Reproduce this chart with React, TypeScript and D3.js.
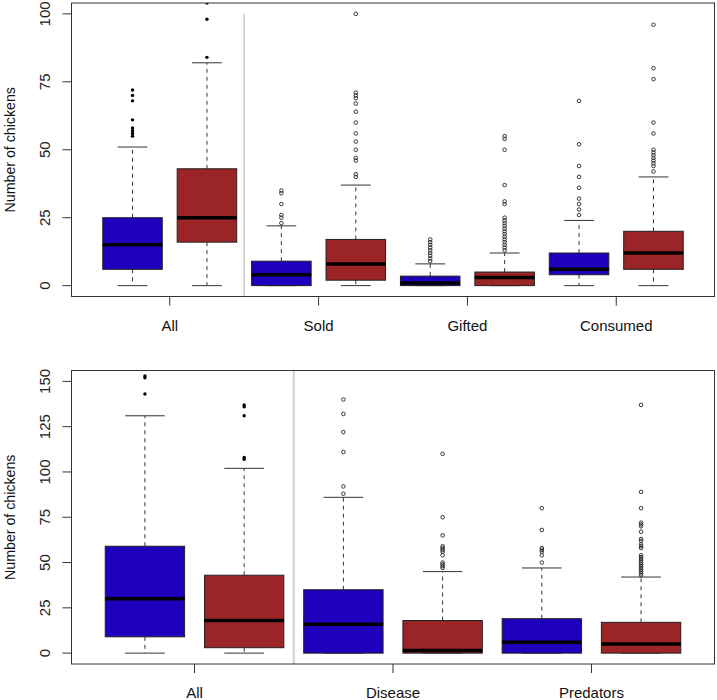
import React from "react";
import * as d3 from "d3";

// ---- Data ----
const topGroups = ["All", "Sold", "Gifted", "Consumed"];
const topTicks = [0, 25, 50, 75, 100];
// [lower whisker, Q1, median, Q3, upper whisker]
const topBlueStats = [
  [0, 6, 15, 25, 51],
  [0, 0, 4, 9, 22],
  [0, 0, 1, 3.5, 8],
  [0, 4, 6, 12, 24],
];
const topRedStats = [
  [0, 16, 25, 43, 82],
  [0, 2, 8, 17, 37],
  [0, 0, 3, 5, 12],
  [0, 6, 12, 20, 40],
];
const topBlueOutliers = [
  [72, 70, 68, 61, 58, 57, 56, 55],
  [35, 34, 30, 26, 25, 23],
  [17, 16, 15, 14, 13, 12, 11, 10, 9],
  [68, 52, 44, 40, 36, 32, 30, 28, 26],
];
const topRedOutliers = [
  [104, 98, 84],
  [100, 71, 70, 69, 67, 64, 60, 56, 53, 50, 47, 46, 41, 40],
  [55, 54, 50, 37, 31, 30, 25, 24, 23, 22, 21, 20, 19, 18, 17, 16, 15, 14, 13],
  [96, 80, 76, 60, 56, 50, 49, 48, 47, 46, 45, 44, 42],
];

const bottomGroups = ["All", "Disease", "Predators"];
const bottomTicks = [0, 25, 50, 75, 100, 125, 150];
const bottomBlueStats = [
  [0, 9, 30, 59, 131],
  [0, 0, 16, 35, 86],
  [0, 0, 6, 19, 47],
];
const bottomRedStats = [
  [0, 3, 18, 43, 102],
  [0, 0, 1.5, 18, 45],
  [0, 0, 5, 17, 42],
];
const bottomBlueOutliers = [
  [153, 152, 143],
  [140, 132, 122, 111, 92, 88],
  [80, 68, 58, 57, 56, 54, 50],
];
const bottomRedOutliers = [
  [137, 136, 131, 108, 107],
  [110, 75, 65, 59, 58, 57, 56, 54, 50, 49, 48, 47],
  [137, 89, 80, 72, 71, 70, 67, 63, 62, 60, 59, 58, 54, 53, 52, 51, 50, 49, 48, 47, 46, 45, 44, 43],
];

const yTitle = "Number of chickens";
const BLUE = "#1c00bb";
const RED = "#9b2426";
const FONT = "'Liberation Sans', Arial, Helvetica, sans-serif";

type PanelProps = {
  id: string;
  groups: string[];
  ticks: number[];
  blueStats: number[][];
  redStats: number[][];
  blueOut: number[][];
  redOut: number[][];
  top: number;
  bottom: number;
  left: number;
  right: number;
  yMax: number;
  sepFromTop: boolean;
  sepColor: string;
  sepWidth: number;
};

function Panel(p: PanelProps) {
  const n = p.groups.length * 2;
  const ext = n * 0.04;
  const x = d3.scaleLinear().domain([0.5 - ext, n + 0.5 + ext]).range([p.left, p.right]);
  const yExt = p.yMax * 0.04;
  const y = d3.scaleLinear().domain([-yExt, p.yMax + yExt]).range([p.bottom, p.top]);
  const bw = (x(1) - x(0)) * 0.8;
  const cap = bw / 2;

  const boxes: { pos: number; s: number[]; out: number[]; color: string; filled: boolean }[] = [];
  p.groups.forEach((g, i) => {
    boxes.push({ pos: 2 * i + 1, s: p.blueStats[i], out: p.blueOut[i], color: BLUE, filled: i === 0 });
    boxes.push({ pos: 2 * i + 2, s: p.redStats[i], out: p.redOut[i], color: RED, filled: i === 0 });
  });

  const clipId = `clip-${p.id}`;
  const midY = (p.top + p.bottom) / 2;
  return (
    <g>
      <defs>
        <clipPath id={clipId}>
          <rect x={p.left} y={p.top} width={p.right - p.left} height={p.bottom - p.top} />
        </clipPath>
      </defs>
      {/* separator */}
      <line
        x1={x(2.5)}
        x2={x(2.5)}
        y1={p.sepFromTop ? p.top : y(p.yMax)}
        y2={p.bottom}
        stroke={p.sepColor}
        strokeWidth={p.sepWidth}
      />
      <g clipPath={`url(#${clipId})`}>
        {boxes.map((b, k) => {
          const cx = x(b.pos);
          const [lo, q1, med, q3, hi] = b.s;
          return (
            <g key={k}>
              <line x1={cx} x2={cx} y1={y(q3)} y2={y(hi)} stroke="#333" strokeWidth={1} strokeDasharray="4,4" />
              <line x1={cx} x2={cx} y1={y(q1)} y2={y(lo)} stroke="#333" strokeWidth={1} strokeDasharray="4,4" />
              <line x1={cx - cap / 2} x2={cx + cap / 2} y1={y(hi)} y2={y(hi)} stroke="#333" strokeWidth={1} />
              <line x1={cx - cap / 2} x2={cx + cap / 2} y1={y(lo)} y2={y(lo)} stroke="#333" strokeWidth={1} />
              <rect
                x={cx - bw / 2}
                y={y(q3)}
                width={bw}
                height={y(q1) - y(q3)}
                fill={b.color}
                stroke="#222"
                strokeWidth={1}
              />
              <line x1={cx - bw / 2} x2={cx + bw / 2} y1={y(med)} y2={y(med)} stroke="#000" strokeWidth={3.5} />
              {b.out.map((v, j) =>
                b.filled ? (
                  <circle key={j} cx={cx} cy={y(v)} r={1.7} fill="#000" />
                ) : (
                  <circle key={j} cx={cx} cy={y(v)} r={1.8} fill="none" stroke="#222" strokeWidth={0.9} />
                )
              )}
            </g>
          );
        })}
      </g>
      {/* frame */}
      <rect x={p.left} y={p.top} width={p.right - p.left} height={p.bottom - p.top} fill="none" stroke="#333" strokeWidth={1} />
      {/* y ticks */}
      {p.ticks.map((t) => (
        <g key={t}>
          <line x1={p.left - 9} x2={p.left} y1={y(t)} y2={y(t)} stroke="#333" strokeWidth={1} />
          <text
            transform={`translate(${p.left - 21.5},${y(t)}) rotate(-90)`}
            textAnchor="middle"
            fontSize={15}
            fontFamily={FONT}
            fill="#222"
          >
            {t}
          </text>
        </g>
      ))}
      {/* x ticks */}
      {p.groups.map((g, i) => {
        const gx = x(2 * i + 1.5);
        return (
          <g key={g}>
            <line x1={gx} x2={gx} y1={p.bottom} y2={p.bottom + 9} stroke="#333" strokeWidth={1} />
            <text x={gx} y={p.bottom + 34} textAnchor="middle" fontSize={15} fontFamily={FONT} fill="#111">
              {g}
            </text>
          </g>
        );
      })}
      <text
        transform={`translate(15,${midY}) rotate(-90)`}
        textAnchor="middle"
        fontSize={14.2}
        fontFamily={FONT}
        fill="#111"
      >
        {yTitle}
      </text>
    </g>
  );
}

export default function App() {
  return (
    <svg
      width={717}
      height={700}
      style={{ position: "absolute", left: 0, top: 0, background: "#fff" }}
    >
      <rect width={717} height={700} fill="#fff" />
      <Panel
        id="top"
        groups={topGroups}
        ticks={topTicks}
        blueStats={topBlueStats}
        redStats={topRedStats}
        blueOut={topBlueOutliers}
        redOut={topRedOutliers}
        top={3}
        bottom={296.5}
        left={71.5}
        right={714.5}
        yMax={100}
        sepFromTop={false}
        sepColor="#b4b4b4"
        sepWidth={1}
      />
      <Panel
        id="bottom"
        groups={bottomGroups}
        ticks={bottomTicks}
        blueStats={bottomBlueStats}
        redStats={bottomRedStats}
        blueOut={bottomBlueOutliers}
        redOut={bottomRedOutliers}
        top={370.5}
        bottom={664}
        left={71.5}
        right={714.5}
        yMax={150}
        sepFromTop={true}
        sepColor="#d0d0d0"
        sepWidth={2}
      />
    </svg>
  );
}
